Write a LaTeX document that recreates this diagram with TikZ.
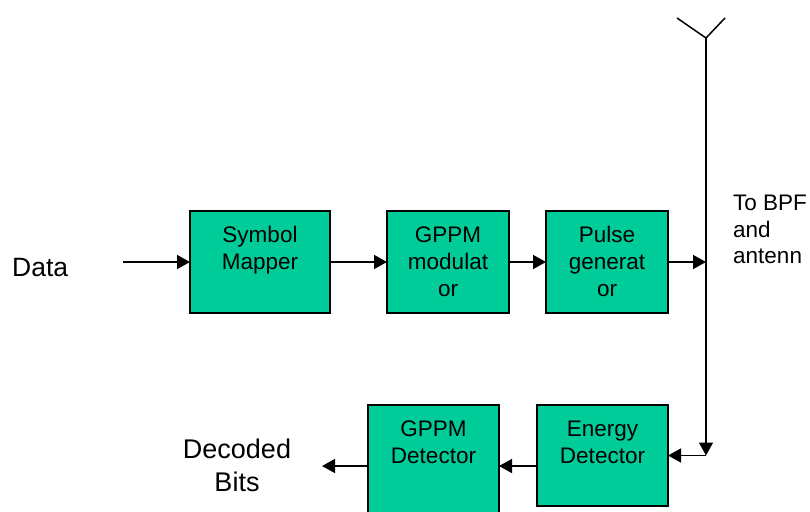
\documentclass[tikz,border=0pt]{standalone}
\usepackage{fontspec}
\setmainfont{Liberation Sans}
\usetikzlibrary{arrows.meta}
\definecolor{blockgreen}{RGB}{0,204,153}
\tikzset{
	blk/.style={draw, fill=blockgreen, line width=1.3pt, inner sep=0pt, outer sep=0pt, anchor=north west},
	sig/.style={line width=1.5pt, -{Triangle[length=13pt,width=14pt]}},
	txt/.style={inner sep=0pt, align=center}
}

\begin{document}
\begin{tikzpicture}[x=1pt, y=-1pt]
\useasboundingbox (0,0) rectangle (810,511);
\clip (0,0) rectangle (810,511);
\def\blk#1#2#3#4#5{% {имя}{угол}{ширина}{высота}{надпись}
	\node[blk] (#1) at (#2) {\parbox[c][#4pt][t]{#3pt}{\centering\fontsize{22.5}{27}\selectfont\rule{0pt}{31pt}#5}}
}

\blk{sm}{190,211}{140}{102}{Symbol\\Mapper};
\blk{gm}{387,211}{122}{102}{GPPM\\modulat\\or};
\blk{pg}{546,211}{122}{102}{Pulse\\generat\\or};
\blk{ed}{537,405}{131}{101}{Energy\\Detector};
\blk{gd}{368,405}{131}{122}{GPPM\\Detector};

% антенна
\coordinate (top) at (706,38);
\coordinate (armL) at (677,18);
\coordinate (armR) at (725,18);
\coordinate (foot) at (top |- ed.east);
\draw[line width=1.5pt] (armL) -- (top) -- (armR);
\draw[sig] (top) -- (foot);

\coordinate (din) at ([xshift=-67pt]sm.west);
\coordinate (dout) at ([xshift=-46pt]gd.west);
\draw[sig] (din) -- (sm.west);
\foreach \a/\b in {sm/gm, gm/pg}
	\draw[sig] (\a.east) -- (\b.west);
\draw[sig] (pg.east) -- (pg.east -| top);
\draw[sig] (foot) -- (ed.east);
\draw[sig] (ed.west |- gd.east) -- (gd.east);
\draw[sig] (gd.west) -- (dout);

\node[txt, anchor=base west, font=\fontsize{26.5}{32}\selectfont] (data) at (12,276) {Data};
\node[txt, anchor=north, font=\fontsize{27}{33}\selectfont] (bits) at (237,439) {Decoded\\Bits};
\node[txt, align=left, anchor=north west, font=\fontsize{22.5}{26.5}\selectfont] (bpf) at (733,195) {To BPF\\and\\antenn};
\end{tikzpicture}
\end{document}
